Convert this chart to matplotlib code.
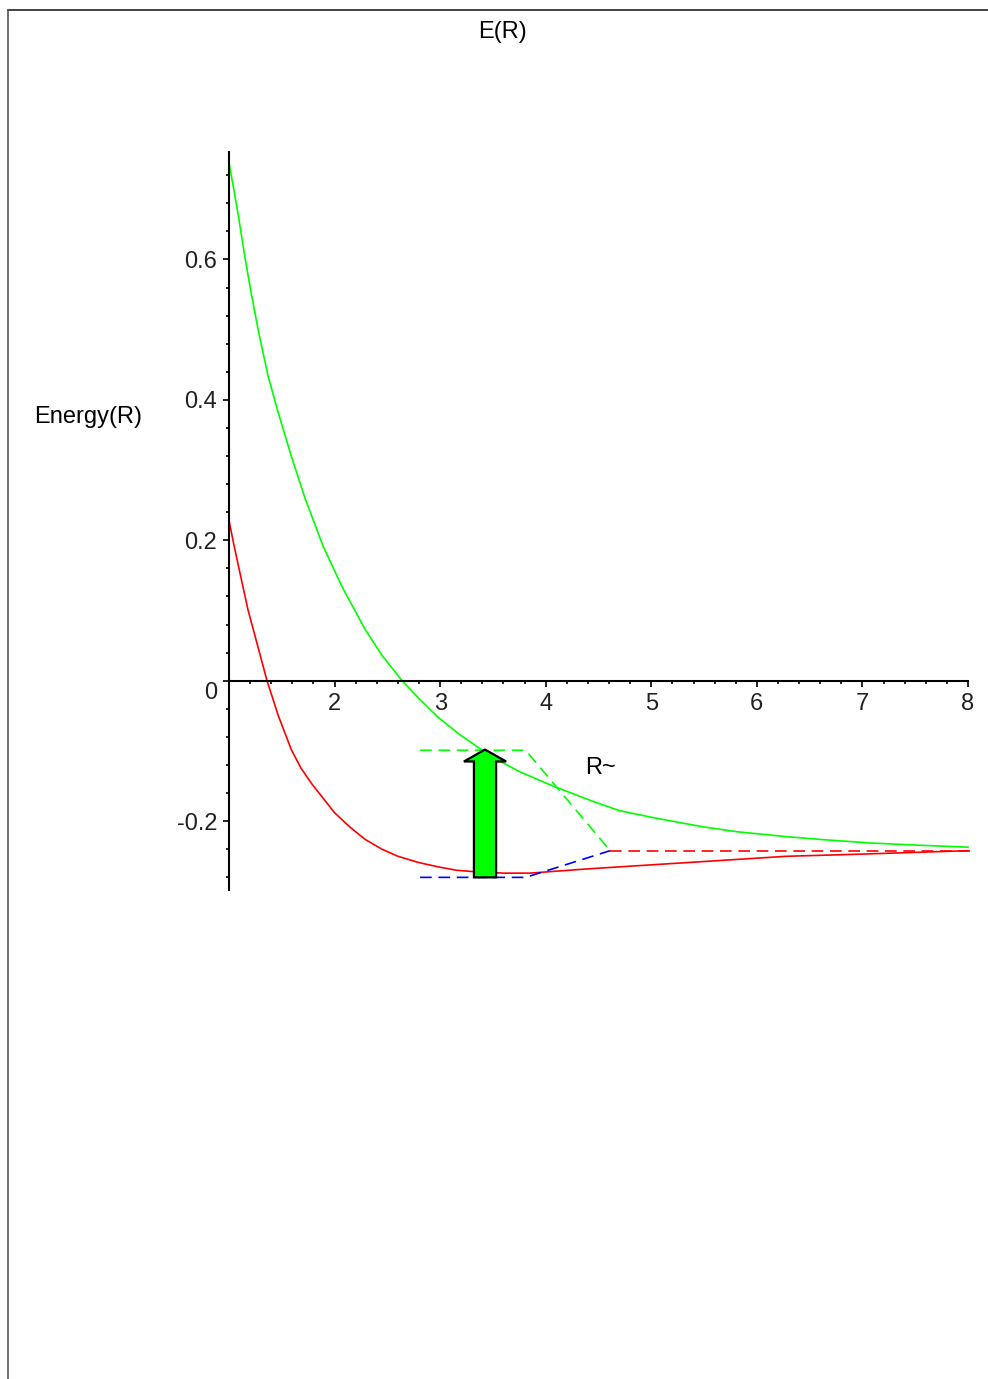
import matplotlib
matplotlib.use("Agg")
import matplotlib.pyplot as plt
import matplotlib.transforms as mtransforms
from matplotlib.patches import FancyArrow
from matplotlib.lines import Line2D
from matplotlib.ticker import MultipleLocator, FixedLocator

plt.rcParams['font.family'] = ['Liberation Sans', 'DejaVu Sans']

# upper (green) curve
r_green = [1.00, 1.05, 1.09, 1.15, 1.21, 1.28, 1.37, 1.47, 1.59, 1.72, 1.89, 2.07, 2.29,
           2.45, 2.64, 2.81, 2.98, 3.18, 3.38, 3.57, 3.76, 4.07, 4.45, 4.70, 5.02,
           5.27, 5.49, 5.81, 6.28, 6.60, 7.07, 7.50, 8.00]
e_green = [0.738, 0.696, 0.661, 0.604, 0.552, 0.497, 0.434, 0.380, 0.320, 0.260, 0.192, 0.134, 0.073,
           0.036, 0.000, -0.027, -0.052, -0.076, -0.097, -0.115, -0.130, -0.150, -0.172, -0.185, -0.195,
           -0.202, -0.208, -0.215, -0.222, -0.226, -0.231, -0.234, -0.237]

# lower (red) curve
r_red = [1.00, 1.05, 1.09, 1.18, 1.28, 1.36, 1.47, 1.59, 1.68, 1.78, 2.00, 2.15, 2.29,
         2.45, 2.60, 2.80, 2.98, 3.16, 3.33, 3.60, 3.85, 4.39, 5.02, 5.65, 6.28, 6.97, 8.00]
e_red = [0.228, 0.191, 0.163, 0.101, 0.045, 0.000, -0.051, -0.098, -0.124, -0.146, -0.188, -0.209, -0.226,
         -0.240, -0.250, -0.259, -0.265, -0.270, -0.272, -0.274, -0.274, -0.268, -0.262, -0.256, -0.250, -0.247, -0.242]

# dashed construction lines
r_guide = [2.81, 3.81, 4.61]
e_guide_up = [-0.099, -0.099, -0.242]
e_guide_low = [-0.280, -0.280, -0.242]
r_asym = [4.61, 8.02]
e_asym = [-0.242, -0.242]

# excitation arrow
arrow_r = 3.425
arrow_from = -0.280
arrow_to = -0.098

x_ticks = [2, 3, 4, 5, 6, 7, 8]
y_ticks = [-0.2, 0.0, 0.2, 0.4, 0.6]
y_labels = ["-0.2", "0", "0.2", "0.4", "0.6"]

fig = plt.figure(figsize=(9.88, 13.79), dpi=100)
ax = fig.add_axes([229 / 988, 1 - 890 / 1379, (968 - 229) / 988, (890 - 152) / 1379])
ax.set_xlim(1, 8)
ax.set_ylim(-0.298, 0.753)

ax.plot(r_green, e_green, color="#00ff00", lw=1.2, clip_on=False)
ax.plot(r_red, e_red, color="#ff0000", lw=1.2, clip_on=False)
ax.plot(r_guide, e_guide_up, color="#00ff00", lw=1.2, ls=(0, (7, 4)), clip_on=False)
ax.plot(r_guide, e_guide_low, color="#0000ff", lw=1.2, ls=(0, (7, 4)), clip_on=False)
ax.plot(r_asym, e_asym, color="#ff0000", lw=1.2, ls=(0, (7, 4)), clip_on=False)

ax.add_patch(FancyArrow(arrow_r, arrow_from, 0, arrow_to - arrow_from,
                        width=0.21, head_width=0.40, head_length=0.017,
                        length_includes_head=True, facecolor="#00ff00",
                        edgecolor="black", lw=1.6, zorder=5))

for s in ["top", "right"]:
    ax.spines[s].set_visible(False)
ax.spines["bottom"].set_position(("data", 0))
ax.spines["left"].set_linewidth(1.5)
ax.spines["bottom"].set_linewidth(1.5)

ax.xaxis.set_major_locator(FixedLocator(x_ticks))
ax.xaxis.set_minor_locator(MultipleLocator(0.2))
ax.yaxis.set_major_locator(FixedLocator(y_ticks))
ax.set_yticklabels(y_labels)
ax.yaxis.set_minor_locator(MultipleLocator(0.04))
ax.tick_params(which="major", length=4.5, width=1.2, labelsize=17, pad=4, colors="black")
ax.tick_params(which="minor", length=2.2, width=1.2)
for lab in ax.get_xticklabels() + ax.get_yticklabels():
    lab.set_color("#222222")

# the "0" label sits a little below the x axis in the original
zero_shift = mtransforms.ScaledTranslation(0, -10 / 100, fig.dpi_scale_trans)
for lab in ax.get_yticklabels():
    if lab.get_text() == "0":
        lab.set_transform(lab.get_transform() + zero_shift)

fig.text(502 / 988, 1 - 32 / 1379, "E(R)", ha="center", va="center", fontsize=17)
fig.text(88 / 988, 1 - 417 / 1379, "Energy(R)", ha="center", va="center", fontsize=17)
fig.text(600 / 988, 1 - 768 / 1379, "R~", ha="center", va="center", fontsize=17)

# outer frame (top and left edges only, as in the page)
fig.add_artist(Line2D([8 / 988, 1], [1 - 10 / 1379, 1 - 10 / 1379], color="#222222", lw=1.2))
fig.add_artist(Line2D([8 / 988, 8 / 988], [0, 1 - 10 / 1379], color="#555555", lw=1.2))

fig.savefig("out.png", dpi=100)
